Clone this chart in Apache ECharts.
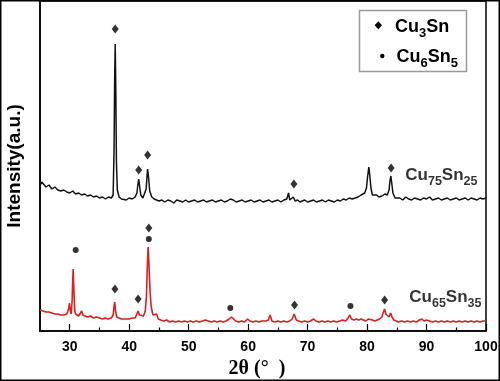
<!DOCTYPE html>
<html><head><meta charset="utf-8">
<script src="https://cdn.jsdelivr.net/npm/echarts@6/dist/echarts.min.js"></script>
<style>html,body{margin:0;padding:0;background:#fff}#c{width:500px;height:381px}</style>
</head><body><div id="c"></div>
<script>
// x tick labels / ticks
const majorTicks = [30, 40, 50, 60, 70, 80, 90, 100];
const minorTicks = [35, 45, 55, 65, 75, 85, 95];

// Cu75Sn25 pattern (2θ, intensity a.u.)
const cu75Sn25 = [
[25,145],[25.3,149],[25.6,147],[26,144],[26.5,146],[27,142],[27.5,144],[28,141],[28.5,140],[29,141],[29.5,139],
[30,138],[30.5,140],[31,137],[31.5,138],[32,136],[32.5,137],[33,135],[33.5,136],[34,134],[34.5,135],[35,133],
[35.5,134],[36,132],[36.5,134],[37,133],[37.3,136],[37.45,180],[37.55,250],[37.65,287],[37.75,240],[37.85,170],
[38,141],[38.3,134],[38.7,132],[39,133],[39.5,131],[40,133],[40.5,132],[41,134],[41.3,138],[41.45,146],[41.6,152],
[41.75,145],[41.95,136],[42.3,133],[42.6,135],[42.85,142],[43.0,155],[43.1,162],[43.25,154],[43.45,140],[43.8,134],
[44.2,132],[44.6,131],[45,130],[45.5,131],[46,129],[46.5,131],[47,130],[47.5,128],[48,131],[48.5,130],[49,129],
[49.5,131],[50,129],[50.5,130],[51,131],[51.5,129],[52,130],[52.5,131],[53,129],[53.5,130],[54,131],[54.5,129],
[55,130],[55.5,131],[56,129],[56.5,130],[57,132],[57.5,131],[58,129],[58.5,130],[59,131],[59.5,129],[60,130],
[60.5,131],[61,129],[61.5,130],[62,131],[62.5,129],[63,130],[63.5,131],[64,129],[64.5,130],[65,131],[65.5,129],
[66,131],[66.5,132],[66.8,138],[67.0,131],[67.3,130],[67.6,134],[67.9,130],[68.3,131],[68.7,129],[69,130],
[69.5,131],[70,129],[70.5,130],[71,131],[71.5,129],[72,130],[72.5,131],[73,129],[73.5,131],[74,130],[74.5,129],
[75,131],[75.5,130],[76,132],[76.5,131],[77,133],[77.5,132],[78,133],[78.5,134],[79,136],[79.3,134],[79.6,138],
[79.9,143],[80.1,155],[80.3,164],[80.45,156],[80.65,143],[80.9,136],[81.2,134],[81.6,136],[82,134],[82.5,135],
[83,137],[83.4,136],[83.7,141],[83.85,150],[84.0,155],[84.15,148],[84.35,138],[84.7,133],[85,132],[85.5,133],
[86,131],[86.5,134],[87,132],[87.5,131],[88,133],[88.5,132],[89,131],[89.5,133],[90,132],[90.5,134],[91,131],
[91.5,132],[92,133],[92.5,131],[93,132],[93.5,133],[94,131],[94.5,132],[95,133],[95.5,131],[96,132],[96.5,133],
[97,131],[97.5,133],[98,132],[98.5,131],[99,133],[99.5,132],[100,133]
];

// Cu65Sn35 pattern (2θ, intensity a.u.)
const cu65Sn35 = [
[25,21],[25.5,20],[26,19],[26.5,19],[27,18],[27.5,17],[28,17],[28.5,16],[29,16],[29.5,17],[29.8,22],[29.95,28],
[30.1,20],[30.25,17],[30.4,30],[30.5,50],[30.58,62],[30.7,40],[30.85,20],[31,17],[31.5,15],[31.8,16],[32,20],
[32.2,16],[32.5,15],[33,14],[33.5,15],[34,13],[34.5,14],[35,13],[35.5,12],[36,13],[36.5,12],[37,13],[37.3,16],
[37.45,25],[37.57,29],[37.7,20],[37.9,14],[38.3,13],[38.7,12],[39,13],[39.5,12],[40,12],[40.5,13],[41,13],
[41.3,15],[41.5,20],[41.7,16],[42,14],[42.4,15],[42.7,20],[42.9,35],[43.05,65],[43.18,84],[43.3,70],[43.5,40],
[43.7,24],[44,16],[44.3,14],[44.6,17],[44.9,12],[45.3,11],[45.8,10],[46.3,11],[46.8,9],[47.3,10],[47.8,9],
[48.3,10],[48.8,9],[49.3,10],[49.8,9],[50.3,10],[50.8,9],[51.3,10],[51.8,9],[52.3,10],[52.8,11],[53.3,10],
[53.8,9],[54.3,10],[54.8,9],[55.3,10],[55.8,9],[56.3,10],[56.8,12],[57.2,14],[57.5,12],[57.9,10],[58.4,9],
[58.9,10],[59.4,9],[59.9,12],[60.3,10],[60.8,9],[61.3,10],[61.8,9],[62.3,10],[62.6,11],[63,10],[63.4,11],
[63.7,16],[64,10],[64.5,9],[65,10],[65.5,9],[66,10],[66.5,9],[67,10],[67.4,12],[67.75,17],[68.1,11],[68.5,10],
[69,9],[69.5,10],[70,9],[70.5,10],[71,12],[71.4,10],[71.9,9],[72.4,10],[72.9,9],[73.4,10],[73.9,9],[74.4,10],
[74.9,9],[75.4,10],[75.9,11],[76.4,10],[76.8,13],[77.1,16],[77.4,12],[77.8,11],[78.2,12],[78.6,11],[79,12],
[79.4,11],[79.8,10],[80.2,12],[80.5,10],[80.9,11],[81.3,10],[81.7,11],[82.1,12],[82.5,14],[82.75,19],[82.95,22],
[83.15,17],[83.4,15],[83.7,14],[83.95,18],[84.2,14],[84.5,11],[84.9,10],[85.3,9],[85.8,10],[86.3,9],[86.8,10],
[87.3,9],[87.8,10],[88.3,9],[88.8,11],[89.2,12],[89.6,10],[90,11],[90.5,10],[91,9],[91.5,10],[92,9],[92.5,10],
[93,9],[93.5,10],[94,9],[94.5,10],[95,9],[95.5,10],[96,9],[96.5,10],[97,9],[97.5,10],[98,9],[98.5,10],[99,9],
[99.5,10],[100,10]
];

// phase markers (2θ, marker height)
const cu3SnMarks = [[37.65,302],[41.6,161],[43.1,176],[67.7,147],[84.05,163],[37.6,42],[41.5,32],[43.3,103],[67.8,26],[82.95,31]];
const cu6Sn5Marks = [[31.0,81],[43.3,92],[57.0,23],[77.2,25]];

// sample labels
const sampleLabels = [['75','25'],['65','35']];
const sampleLabelPos = [[86.43,156],[87.1,33.5]];

const SANS = 'Liberation Sans, Arial, sans-serif';
const rich = {
  m:{fontFamily:SANS,fontWeight:'bold',fontSize:17,color:'#000'},
  s:{fontFamily:SANS,fontWeight:'bold',fontSize:12.5,color:'#000',padding:[13,0,0,0]}
};
const richL = {
  m:{fontFamily:SANS,fontWeight:'bold',fontSize:18,color:'#000'},
  s:{fontFamily:SANS,fontWeight:'bold',fontSize:13,color:'#000',padding:[13,0,0,0]}
};

const chart = echarts.init(document.getElementById('c'), null, {renderer:'canvas'});
chart.setOption({
  animation:false,
  backgroundColor:'#fff',
  grid:{left:40,right:14,top:1,bottom:50,show:true,borderColor:'#000',borderWidth:1.5,backgroundColor:'transparent',
        containLabel:false,outerBoundsMode:'none'},
  xAxis:[{
    type:'value',min:25,max:100,interval:5,
    axisLine:{lineStyle:{color:'#000',width:1.5}},
    axisTick:{inside:true,length:7,customValues:majorTicks,lineStyle:{color:'#000',width:1.2}},
    axisLabel:{customValues:majorTicks,margin:9,color:'#000',fontFamily:SANS,fontWeight:'bold',fontSize:14},
    splitLine:{show:false},
    name:'2θ (°  )',nameLocation:'middle',nameGap:27,
    nameTextStyle:{fontFamily:'Liberation Serif, Times New Roman, serif',fontWeight:'bold',fontSize:20,color:'#000',padding:[0,12,0,0]}
  },{
    type:'value',min:25,max:100,interval:5,position:'bottom',
    axisLine:{show:false},
    axisTick:{inside:true,length:3.5,customValues:minorTicks,lineStyle:{color:'#000',width:1.2}},
    axisLabel:{show:false},splitLine:{show:false}
  }],
  yAxis:{
    type:'value',min:0,max:330,
    axisLine:{show:true,lineStyle:{color:'#000',width:1.5}},
    axisTick:{show:false},axisLabel:{show:false},splitLine:{show:false},
    name:'Intensity(a.u.)',nameLocation:'middle',nameGap:16,nameRotate:90,
    nameTextStyle:{fontFamily:SANS,fontWeight:'bold',fontSize:19,color:'#000'}
  },
  series:[
    {type:'line',name:'Cu75Sn25',data:cu75Sn25,showSymbol:false,symbol:'none',lineStyle:{color:'#111',width:1.5},z:2},
    {type:'line',name:'Cu65Sn35',data:cu65Sn35,showSymbol:false,symbol:'none',lineStyle:{color:'#dc1f1f',width:1.6},z:2},
    {type:'scatter',name:'Cu3Sn',data:cu3SnMarks,symbol:'diamond',symbolSize:[7,9],itemStyle:{color:'#000'},z:3},
    {type:'scatter',name:'Cu6Sn5',data:cu6Sn5Marks,symbol:'circle',symbolSize:6,itemStyle:{color:'#000'},z:3},
    {type:'scatter',name:'labels',symbolSize:0,z:4,
      data:sampleLabels.map((l,i)=>({value:sampleLabelPos[i],
        label:{show:true,position:'right',distance:0,formatter:'{m|Cu}{s|'+l[0]+'}{m|Sn}{s|'+l[1]+'}',rich:rich}}))}
  ],
  graphic:[
    {type:'rect',shape:{x:0,y:0,width:500,height:381},style:{fill:'none',stroke:'#000',lineWidth:3},z:100},
    {type:'rect',shape:{x:359.5,y:10.5,width:107,height:61},style:{fill:'#fff',stroke:'#999',lineWidth:1.5},z:50},
    {type:'polygon',shape:{points:[[378.3,21.3],[382,25.3],[378.3,29.3],[374.6,25.3]]},style:{fill:'#000'},z:51},
    {type:'circle',shape:{cx:382.3,cy:56,r:2.2},style:{fill:'#000'},z:51},
    {type:'text',x:395,y:27,z:51,style:{text:'{m|Cu}{s|3}{m|Sn}',rich:richL,verticalAlign:'middle'}},
    {type:'text',x:396.5,y:57,z:51,style:{text:'{m|Cu}{s|6}{m|Sn}{s|5}',rich:richL,verticalAlign:'middle'}}
  ]
});
</script></body></html>
